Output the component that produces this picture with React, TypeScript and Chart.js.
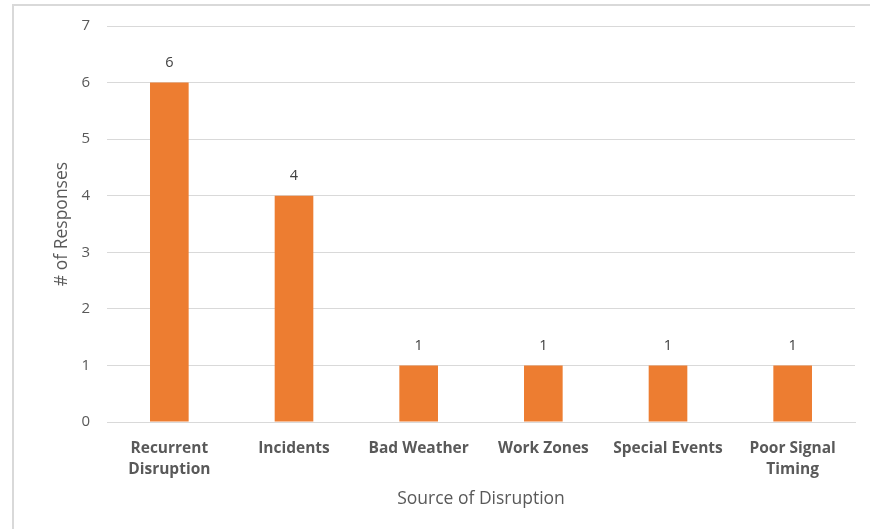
import React, { useEffect, useRef } from "react";
import { Chart, registerables } from "chart.js";

Chart.register(...registerables);

const categories: (string | string[])[] = [
  ["Recurrent", "Disruption"],
  "Incidents",
  "Bad Weather",
  "Work Zones",
  "Special Events",
  ["Poor Signal", "Timing"],
];
const responses: number[] = [6, 4, 1, 1, 1, 1];
const yTicks: number[] = [0, 1, 2, 3, 4, 5, 6, 7];

const FONT = "'Open Sans', Lato, sans-serif";

const valueLabels = {
  id: "valueLabels",
  afterDatasetsDraw(chart: any) {
    const ctx = chart.ctx;
    const meta = chart.getDatasetMeta(0);
    ctx.save();
    ctx.font = `14.5px ${FONT}`;
    ctx.fillStyle = "#404040";
    ctx.textAlign = "center";
    ctx.textBaseline = "middle";
    meta.data.forEach((bar: any, i: number) => {
      ctx.fillText(String(chart.data.datasets[0].data[i]), bar.x, bar.y - 20);
    });
    ctx.restore();
  },
};

export default function App() {
  const ref = useRef<HTMLCanvasElement | null>(null);
  useEffect(() => {
    if (!ref.current) return;
    const chart = new Chart(ref.current, {
      type: "bar",
      data: {
        labels: categories,
        datasets: [
          {
            data: responses,
            backgroundColor: "#ED7D31",
            barPercentage: 0.31,
            categoryPercentage: 1,
          },
        ],
      },
      plugins: [valueLabels],
      options: {
        animation: false,
        responsive: false,
        maintainAspectRatio: false,
        layout: { padding: { left: 49, top: 26, right: 15, bottom: 19 } },
        plugins: { legend: { display: false }, tooltip: { enabled: false } },
        scales: {
          x: {
            grid: { display: false, drawTicks: false },
            border: { display: true, color: "#d9d9d9", width: 1 },
            ticks: {
              color: "#595959",
              font: { family: FONT, size: 15.5, weight: "bold", lineHeight: 1.35 },
              padding: 16,
              maxRotation: 0,
              autoSkip: false,
            },
            title: {
              display: true,
              text: "Source of Disruption",
              color: "#595959",
              font: { family: FONT, size: 17.5 },
              padding: { top: 0, bottom: 0 },
            },
            afterFit(scale: any) {
              scale.height = 88;
            },
          },
          y: {
            min: 0,
            max: 7,
            afterBuildTicks(scale: any) {
              scale.ticks = yTicks.map((v) => ({ value: v }));
            },
            grid: { color: "#d9d9d9", drawTicks: false },
            border: { display: false },
            ticks: {
              color: "#595959",
              font: { family: FONT, size: 15 },
              padding: 17,
              stepSize: 1,
            },
            title: {
              display: true,
              text: "# of Responses",
              color: "#595959",
              font: { family: FONT, size: 17.5 },
              padding: { top: 3, bottom: 0 },
            },
            afterFit(scale: any) {
              scale.width = 58;
            },
          },
        },
      },
    } as any);
    return () => chart.destroy();
  }, []);

  return (
    <div style={{ position: "fixed", left: 0, top: 0, width: 870, height: 529, background: "#fff", overflow: "hidden" }}>
      <div
        style={{
          position: "absolute",
          left: 12,
          top: 4,
          width: 900,
          height: 600,
          border: "2px solid #d9d9d9",
          boxSizing: "border-box",
        }}
      />
      <canvas
        ref={ref}
        width={870}
        height={529}
        style={{ position: "absolute", left: 0, top: 0, width: 870, height: 529 }}
      />
    </div>
  );
}
